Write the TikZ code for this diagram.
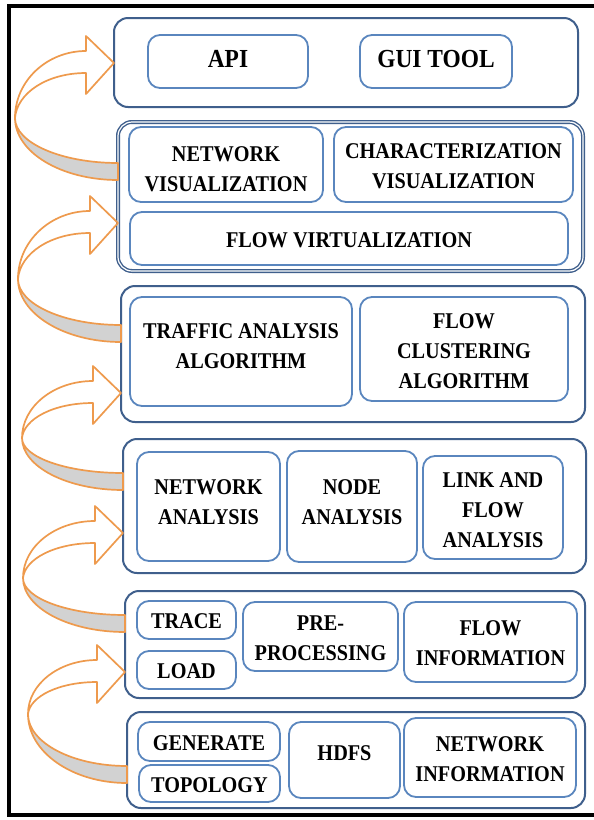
\documentclass[tikz,border=0pt]{standalone}
\usepackage{fontspec}
\setmainfont{Liberation Serif}[FakeStretch=0.9]
\definecolor{outblue}{HTML}{3F5F8C}
\definecolor{inblue}{HTML}{5A86BE}
\definecolor{ribor}{HTML}{EE9A4D}
\definecolor{ribgray}{HTML}{D2D2D2}
\def\txtraise{0pt}
\tikzset{
  txtup/.code={\def\txtraise{#1}},
  layerbox/.style={draw=outblue, line width=2pt, rounded corners=14pt},
  inbox/.style={draw=inblue, line width=1.8pt, rounded corners=12pt, inner sep=0pt,
    align=center, text=black, font=\bfseries\fontsize{22.5}{30}\selectfont, txtup=-2.5pt},
  bigtext/.style={font=\bfseries\fontsize{26}{30}\selectfont, txtup=0pt},
  rib/.style={draw=ribor, line width=1.7pt, line join=round},
}
\newcommand\upbox[2]{\raisebox{#1}[\height][\depth]{\begin{tabular}{@{}c@{}}#2\end{tabular}}}
\newcommand\bx[7][]{%
  \pgfmathsetmacro\bW{#5-#3}\pgfmathsetmacro\bH{#6-#4}%
  \node[inbox,#1,minimum width=\bW pt,minimum height=\bH pt] (#2) at ({(#3+#5)/2},{(#4+#6)/2}) {\upbox{\txtraise}{#7}};}
\newcommand\lay[6][]{%
  \pgfmathsetmacro\bW{#5-#3}\pgfmathsetmacro\bH{#6-#4}%
  \node[layerbox,#1,minimum width=\bW pt,minimum height=\bH pt,inner sep=0pt] (#2) at ({(#3+#5)/2},{(#4+#6)/2}) {};}
% tipx tipy lx ly tailx tailtop
\newcommand\ribbon[6]{%
  \pgfmathsetmacro\rHX{#1-28}%
  \pgfmathsetmacro\rSA{#2-12}%
  \pgfmathsetmacro\rSB{#2+10}%
  \pgfmathsetmacro\rBA{#2-27}%
  \pgfmathsetmacro\rBB{#2+31}%
  \pgfmathsetmacro\rTB{#6+17}%
  \pgfmathsetmacro\rCXA{\rHX-0.552*(\rHX-#3)}%
  \pgfmathsetmacro\rCYA{#4-0.552*(#4-\rSA)}%
  \pgfmathsetmacro\rCYB{#4-0.552*(#4-\rSB)}%
  \pgfmathsetmacro\rCXT{#5-0.552*(#5-#3)}%
  \pgfmathsetmacro\rCYT{#4+0.552*(#6-#4)}%
  \pgfmathsetmacro\rCYTB{#4+0.552*(\rTB-#4)}%
  \pgfmathsetmacro\rLXI{#3+2}%
  \fill[ribgray] (#3,#4) .. controls (#3,\rCYT) and (\rCXT,#6) .. (#5,#6) -- (#5,\rTB) .. controls (\rCXT,\rTB) and (#3,\rCYTB) .. cycle;
  \draw[rib] (#5,\rTB) .. controls (\rCXT,\rTB) and (#3,\rCYTB) .. (#3,#4)
    .. controls (#3,\rCYA) and (\rCXA,\rSA) .. (\rHX,\rSA) -- (\rHX,\rBA) -- (#1,#2) -- (\rHX,\rBB) -- (\rHX,\rSB)
    .. controls (\rCXA,\rSB) and (\rLXI,\rCYB) .. (#3,#4)
    .. controls (#3,\rCYT) and (\rCXT,#6) .. (#5,#6) -- cycle;
}
\begin{document}
\begin{tikzpicture}[x=1pt,y=-1pt]
\useasboundingbox (0,0) rectangle (594,820);
\fill[white] (0,0) rectangle (594,820);
\draw[line width=3.2pt] (594,6) -- (9,6) -- (9,815) -- (594,815);

% layers
\lay{L1}{114}{18}{578}{107}
\lay[double=white,double distance=1.2pt,line width=1.4pt]{L2}{118}{122}{583}{271}
\lay{L3}{121}{286}{585}{422}
\lay{L4}{123}{439}{586}{573}
\lay{L5}{125}{591}{585}{698}
\lay{L6}{127}{712}{585}{808}

% layer 1
\bx[bigtext]{api}{148}{35}{308}{88}{API}
\bx[bigtext]{gui}{360}{35}{512}{88}{GUI TOOL}
% layer 2
\bx[txtup=-5.5pt]{netvis}{129}{127}{323}{202}{NETWORK\\VISUALIZATION}
\bx{charvis}{334}{127}{573}{202}{CHARACTERIZATION\\VISUALIZATION}
\bx{flowvirt}{130}{212}{568}{265}{FLOW VIRTUALIZATION}
% layer 3
\bx[txtup=4pt]{traffic}{130}{297}{352}{406}{TRAFFIC ANALYSIS\\ALGORITHM}
\bx[txtup=-3pt]{flowclust}{360}{297}{568}{401}{FLOW\\CLUSTERING\\ALGORITHM}
% layer 4
\bx[txtup=3.5pt]{netan}{137}{452}{280}{561}{NETWORK\\ANALYSIS}
\bx[txtup=3.5pt]{nodean}{287}{451}{417}{562}{NODE\\ANALYSIS}
\bx[txtup=-3.5pt]{linkflow}{423}{456}{563}{559}{LINK AND\\FLOW\\ANALYSIS}
% layer 5
\bx{trace}{137}{601}{236}{639}{TRACE}
\bx{load}{137}{651}{236}{689}{LOAD}
\bx{pre}{243}{602}{398}{671}{PRE-\\PROCESSING}
\bx{flowinfo}{404}{602}{577}{682}{FLOW\\INFORMATION}
% layer 6
\bx{generate}{138}{722}{280}{761}{GENERATE}
\bx{topology}{139}{765}{280}{802}{TOPOLOGY}
\bx[txtup=6pt]{hdfs}{289}{722}{400}{798}{HDFS}
\bx{netinfo}{404}{718}{576}{797}{NETWORK\\INFORMATION}

% ribbon arrows
\ribbon{114}{63}{15}{118}{118}{163}
\ribbon{118}{223}{18}{279}{121}{325}
\ribbon{121}{393}{22}{438}{123}{473}
\ribbon{123}{533}{23}{578}{125}{615}
\ribbon{125}{672}{28}{714}{127}{766}
\end{tikzpicture}
\end{document}
